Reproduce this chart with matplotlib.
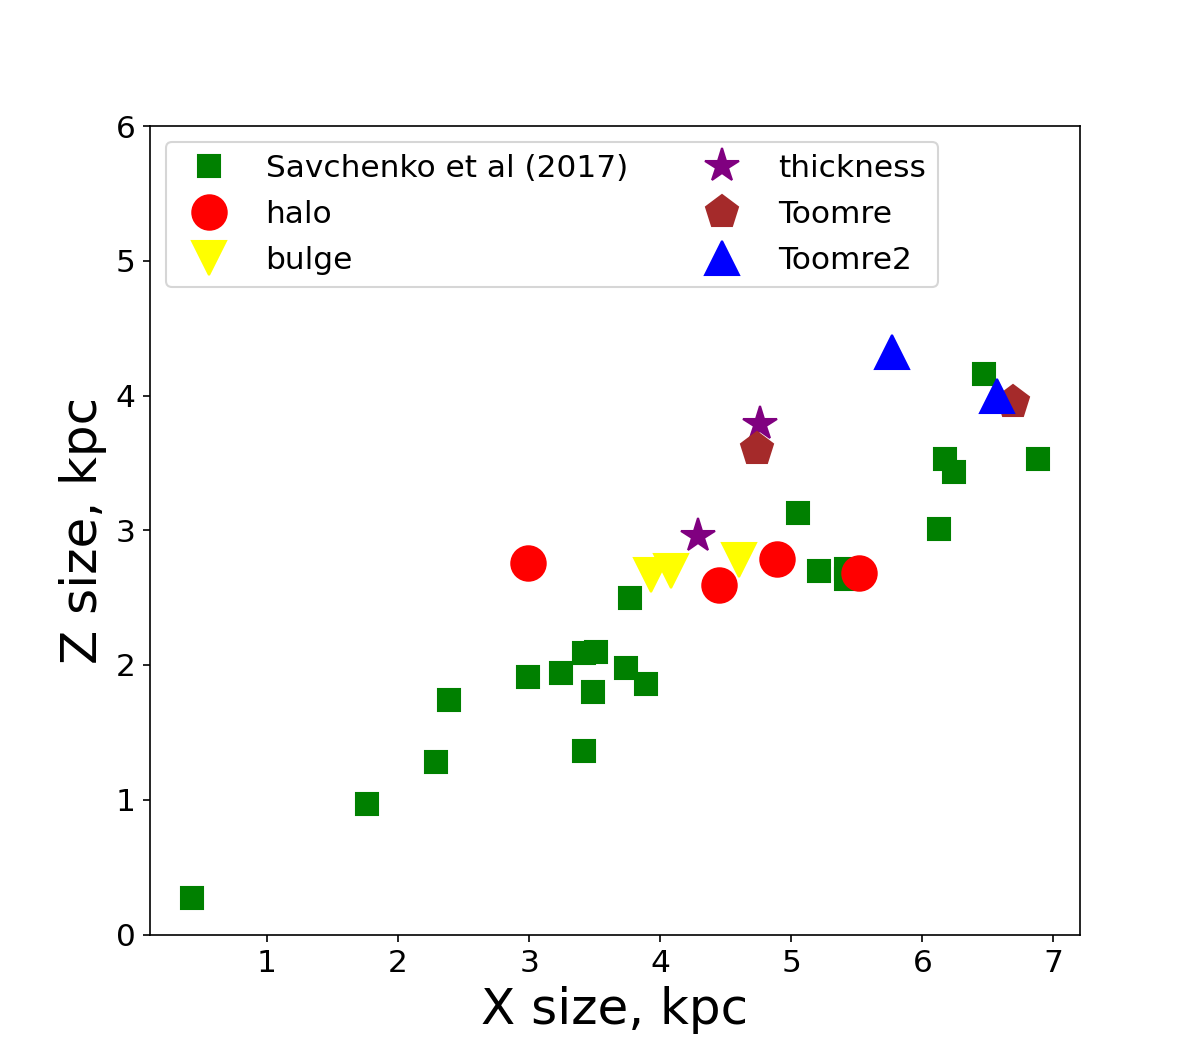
import numpy as np
import matplotlib
matplotlib.use("Agg")
import matplotlib.pyplot as plt

# Savchenko et al (2017) sample
sav_x = [0.43, 1.76, 2.29, 2.39, 2.99, 3.24, 3.42, 3.51, 3.49, 3.42, 3.74, 3.89,
         3.77, 5.05, 5.21, 5.42, 5.42, 6.13, 6.17, 6.24, 6.47, 6.88]
sav_z = [0.27, 0.97, 1.28, 1.74, 1.91, 1.94, 2.09, 2.10, 1.80, 1.36, 1.98, 1.86,
         2.50, 3.13, 2.70, 2.71, 2.64, 3.01, 3.53, 3.43, 4.16, 3.53]

# model estimates
halo_x = [2.99, 4.45, 4.89, 5.52]
halo_z = [2.76, 2.59, 2.79, 2.68]

bulge_x = [3.93, 4.08, 4.60]
bulge_z = [2.67, 2.70, 2.78]

thick_x = [4.29, 4.76]
thick_z = [2.96, 3.79]

toomre_x = [4.74, 6.69]
toomre_z = [3.60, 3.95]

toomre2_x = [5.77, 6.57]
toomre2_z = [4.32, 4.00]

plt.figure(figsize=(8, 7))
plt.plot(sav_x, sav_z, "s", color="green", ms=11, label="Savchenko et al (2017)")
plt.plot(halo_x, halo_z, "o", color="red", ms=16.5, label="halo")
plt.plot(bulge_x, bulge_z, "v", color="yellow", ms=16.5, label="bulge")
plt.plot(thick_x, thick_z, "*", color="purple", ms=17, label="thickness")
plt.plot(toomre_x, toomre_z, "p", color="brown", ms=16.5, label="Toomre")
plt.plot(toomre2_x, toomre2_z, "^", color="blue", ms=16.5, label="Toomre2")
plt.ylim(0, 6)
plt.xlabel("X size, kpc", fontsize=24)
plt.ylabel("Z size, kpc", fontsize=24)
plt.xticks(fontsize=15)
plt.yticks(fontsize=15)
plt.legend(loc="upper left", ncol=2, fontsize=15, labelspacing=0.54)
plt.savefig("out.png", dpi=150)
